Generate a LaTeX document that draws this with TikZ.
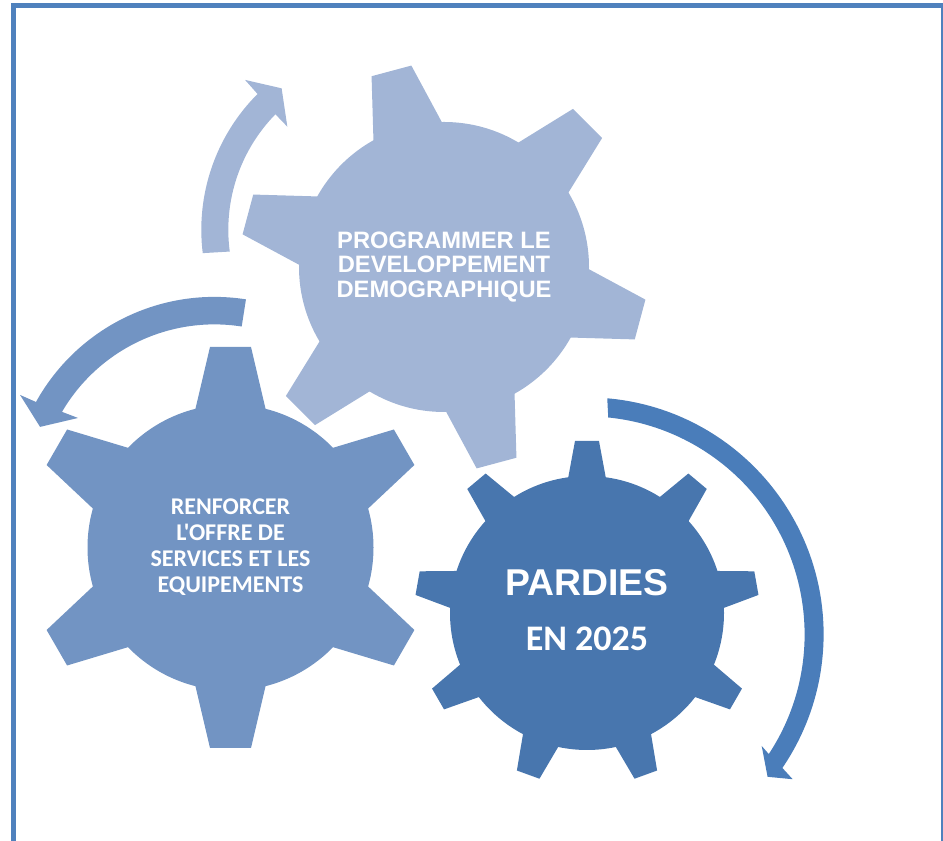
\documentclass[tikz,border=0pt]{standalone}
\usepackage{fontspec}
\setmainfont{Liberation Sans}
\newfontfamily\calibri{Carlito}[Ligatures=TeXOff]
\usetikzlibrary{calc}
\definecolor{frameblue}{HTML}{4F81BD}
\definecolor{gearlight}{HTML}{A2B5D6}
\definecolor{gearmid}{HTML}{7294C3}
\definecolor{geardark}{HTML}{4876AE}
\definecolor{arrowdark}{HTML}{4A7DBA}
\newcommand{\gearwheel}[8]{%
  \fill[#2] (#1) circle[radius=#5];
  \foreach \k in {1,...,#3}
    \fill[#2, shift={(#1)}, rotate=#4+\k*360/#3] (110,-#8) -- (#6,-#7) -- (#6,#7) -- (110,#8) -- cycle;
}

\begin{document}
\begin{tikzpicture}[x=0.75pt, y=0.75pt,
    gearlabel/.style={text=white, align=center}]
    \useasboundingbox (0,0) rectangle (943,841);
    \draw[frameblue, line width=3.75pt] (13.5,-10) -- (13.5,835.2) -- (943.2,835.2) -- (943.2,-10);
    \coordinate (g1) at (444,574);
    \coordinate (g2) at (230.5,293.5);
    \coordinate (g3) at (587,228);
    \gearwheel{g1}{gearlight}{6}{45}{145}{203}{20.6}{42.6}
    \gearwheel{g2}{gearmid}{6}{30}{143}{200.5}{20.5}{41.8}
    \gearwheel{g3}{geardark}{9}{50}{137}{172}{12}{23.5}
    \fill[gearlight, shift={(393.3,611.25)}] (187:192) arc[start angle=187, end angle=135, radius=192]
        -- (134.7:210.8) -- (128.3:180.2) -- (135.8:147.8) -- (135.6:165)
        arc[start angle=135.6, end angle=187.6, radius=165] -- cycle;
    \fill[gearmid, shift={(214.4,340.1)}] (81.1:204) arc[start angle=81.1, end angle=151, radius=204]
        -- (151.4:221.4) -- (157:189.4) -- (148.7:159.6) -- (149.7:176.5)
        arc[start angle=149.7, end angle=81.1, radius=176.5] -- cycle;
    \fill[arrowdark, shift={(586.6,206.6)}] (85:237) arc[start angle=85, end angle=-34.3, radius=237]
        -- (-35.1:251.9) -- (-38.2:230.3) -- (-32.5:207.6) -- (-33.3:218)
        arc[start angle=-33.3, end angle=84.3, radius=218] -- cycle;
    \node[gearlabel, font=\bfseries\fontsize{17.8}{18.5}\selectfont] (prog) at (g1)
        {PROGRAMMER LE\\DEVELOPPEMENT\\DEMOGRAPHIQUE};
    \node[gearlabel, font=\calibri\bfseries\fontsize{18}{19.5}\selectfont] (renf) at (g2)
        {RENFORCER\\L'OFFRE DE\\SERVICES ET LES\\EQUIPEMENTS};
    \path (g3) ++(0,17) node[gearlabel, anchor=base, font=\bfseries\fontsize{28}{30}\selectfont] (pard) {PARDIES};
    \path (pard.base) ++(0,-54.7) node[gearlabel, anchor=base, font=\calibri\bfseries\fontsize{27}{29}\selectfont] (year) {EN 2025};
\end{tikzpicture}
\end{document}
